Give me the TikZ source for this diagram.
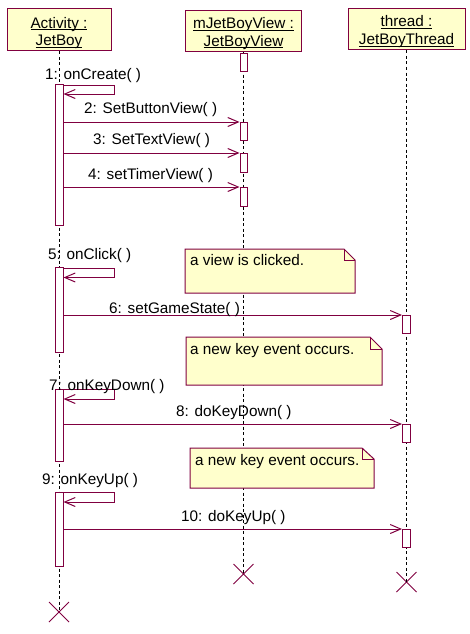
\documentclass[tikz,border=0pt]{standalone}
\usepackage{fontspec}
\setmainfont{Liberation Sans}
\usetikzlibrary{arrows.meta,shapes.misc}
\definecolor{umlred}{RGB}{128,0,64}
\definecolor{umlfill}{RGB}{255,255,204}
\newcommand{\myul}[1]{\setbox0\hbox{#1}\rlap{\rule[-1.8pt]{\wd0}{0.9pt}}\box0}
\begin{document}
\begin{tikzpicture}[x=1pt,y=-1pt,
  font=\fontsize{15.3}{17}\selectfont,
  head/.style={draw=umlred, fill=umlfill, line width=1pt, inner sep=0pt},
  htext/.style={anchor=base, inner sep=0pt},
  bar/.style={draw=umlred, fill=white, line width=1pt, inner sep=0pt, anchor=north, minimum width=8pt},
  life/.style={black, line width=0.8pt, dash pattern=on 3pt off 2.5pt},
  msg/.style={draw=umlred, line width=1pt, -{Straight Barb[length=10.5pt,width=9pt]}},
  notebox/.style={draw=umlred, fill=umlfill, line width=1pt},
  lbl/.style={anchor=base west, inner sep=0pt},
  killx/.style={draw=umlred, line width=1pt, cross out, minimum size=19pt, inner sep=0pt}]
\useasboundingbox (0,0) rectangle (470,634);
% heads
\node[head, minimum width=104pt, minimum height=42pt] (act) at (59,30) {};
\node[head, minimum width=116pt, minimum height=41pt] (mjb) at (243.5,31.5) {};
\node[head, minimum width=117pt, minimum height=41pt] (thr) at (406.5,29.5) {};
\node[htext] (actA) at (59,28.3) {\myul{Activity :}};
\node[htext] (actB) at (59,45.7) {\myul{JetBoy}};
\node[htext] (mjbA) at (243.5,29) {\myul{mJetBoyView :}};
\node[htext] (mjbB) at (243.5,46.5) {\myul{JetBoyView}};
\node[htext] (thrA) at (406.5,27) {\myul{thread :}};
\node[htext] (thrB) at (406.5,45) {\myul{JetBoyThread}};
% end marks
\node[killx] (xa) at (59,612) {};
\node[killx] (xm) at (243.5,574) {};
\node[killx] (xt) at (406.5,582) {};
% lifelines
\draw[life] (act.south) -- (xa.center);
\draw[life] (mjb.south) -- (xm.center);
\draw[life] (thr.south) -- (xt.center);
% notes
\draw[notebox] (185,249) -- (344,249) -- (355,260) -- (355,293) -- (185,293) -- cycle;
\draw[umlred, line width=1pt] (344,249) -- (344,260) -- (355,260);
\draw[notebox] (186,337) -- (370,337) -- (382,349) -- (382,385) -- (186,385) -- cycle;
\draw[umlred, line width=1pt] (370,337) -- (370,349) -- (382,349);
\draw[notebox] (190,448) -- (362,448) -- (374,459) -- (374,488) -- (190,488) -- cycle;
\draw[umlred, line width=1pt] (362,448) -- (362,459) -- (374,459);
\node[lbl] (n1) at (190,265.3) {a view is clicked.};
\node[lbl] (n2) at (190,354.3) {a new key event occurs.};
\node[lbl] (n3) at (195,465) {a new key event occurs.};
% activation bars
\node[bar, minimum width=7pt, minimum height=18pt] (v0) at (243.5,53) {};
\node[bar, minimum height=141pt] (a1) at (59,84) {};
\node[bar, minimum width=7pt, minimum height=18pt] (v1) at (243.5,122) {};
\node[bar, minimum width=7pt, minimum height=19pt] (v2) at (243.5,153) {};
\node[bar, minimum width=7pt, minimum height=19pt] (v3) at (243.5,187) {};
\node[bar, minimum height=85pt] (a2) at (59,267) {};
\node[bar, minimum height=18pt] (t1) at (406.5,315) {};
\node[bar, minimum height=72pt] (a3) at (59,389) {};
\node[bar, minimum height=18pt] (t2) at (406.5,424) {};
\node[bar, minimum height=74pt] (a4) at (59,492) {};
\node[bar, minimum height=18pt] (t3) at (406.5,529) {};
% self calls
\draw[msg] (a1.north east) ++(0,1) -- ++(51,0) -- ++(0,9) -- ++(-51,0);
\draw[msg] (a2.north east) ++(0,1) -- ++(51,0) -- ++(0,9.5) -- ++(-51,0);
\draw[msg] (a3.north east) ++(0,0) -- ++(51,0) -- ++(0,10) -- ++(-51,0);
\draw[msg] (a4.north east) ++(0,0) -- ++(51,0) -- ++(0,10) -- ++(-51,0);
% messages
\draw[msg] (a1.east |- v1.north west) -- (v1.north west);
\draw[msg] (a1.east |- v2.north west) -- (v2.north west);
\draw[msg] (a1.east |- v3.north west) -- (v3.north west);
\draw[msg] (a2.east |- t1.north west) -- (t1.north west);
\draw[msg] (a3.east |- t2.north west) -- (t2.north west);
\draw[msg] (a4.east |- t3.north west) -- (t3.north west);
% labels
\node[lbl] (l1) at (45,79.5) {1: onCreate( )};
\node[lbl] (l2) at (84,113) {2: SetButtonView( )};
\node[lbl] (l3) at (93,144.7) {3: SetTextView( )};
\node[lbl] (l4) at (88,179) {4: setTimerView( )};
\node[lbl] (l5) at (48,259.7) {5: onClick( )};
\node[lbl] (l6) at (109,313) {6: setGameState( )};
\node[lbl] (l7) at (49,390) {7: onKeyDown( )};
\node[lbl] (l8) at (176,416) {8: doKeyDown( )};
\node[lbl] (l9) at (42,484) {9: onKeyUp( )};
\node[lbl] (l10) at (181,521.3) {10: doKeyUp( )};
\end{tikzpicture}
\end{document}
